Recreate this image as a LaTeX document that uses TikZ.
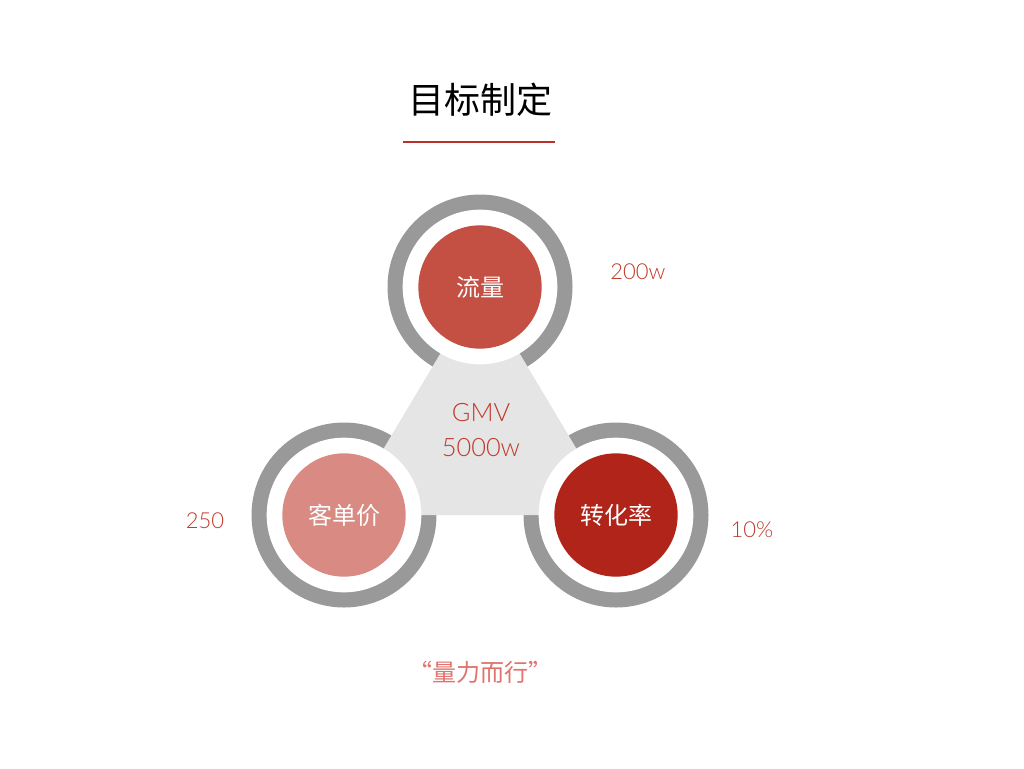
\documentclass[tikz,border=0pt]{standalone}
\usepackage{fontspec}
\newfontfamily\cjk{Noto Sans CJK SC}
\newfontfamily\lat{Lato}[UprightFont=* Light]
\definecolor{ringgray}{HTML}{999999}
\definecolor{trigray}{HTML}{E5E5E5}
\definecolor{topred}{HTML}{C44F43}
\definecolor{pinkred}{HTML}{D88A83}
\definecolor{darkred}{HTML}{B0241A}
\definecolor{txtred}{HTML}{C0392B}
\definecolor{quotered}{HTML}{E0736E}
\definecolor{linered}{HTML}{B8312A}
\tikzset{
  ring/.style={circle, fill=ringgray, minimum size=138.75pt, inner sep=0pt},
  gap/.style={circle, fill=white, minimum size=116pt, inner sep=0pt},
  core/.style={circle, minimum size=92.5pt, inner sep=0pt, text=white, font=\cjk\fontsize{18}{18}\selectfont},
  valtxt/.style={text=txtred, font=\lat\fontsize{16.5}{16.5}\selectfont, inner sep=0pt},
}
\begin{document}
\begin{tikzpicture}[x=0.75pt,y=-0.75pt]
\useasboundingbox (0,0) rectangle (1024,768);
\fill[white] (0,0) rectangle (1024,768);
% title
\node[font=\cjk\fontsize{27}{27}\selectfont, text=black] (title) at (480,100) {目标制定};
\coordinate (ulA) at (403,142);
\coordinate (ulB) at (555,142);
\draw[linered, line width=1.6pt] (ulA) -- (ulB);
% rings
\node[ring] (rtop) at (480,287) {};
\node[ring] (rleft) at (344,515) {};
\node[ring] (rright) at (616,515) {};
% triangle
\fill[trigray] (rtop.center) -- (rleft.center) -- (rright.center) -- cycle;
% white gaps
\node[gap] (gtop) at (rtop) {};
\node[gap] (gleft) at (rleft) {};
\node[gap] (gright) at (rright) {};
% cores
\node[core, fill=topred] (liuliang) at (rtop) {流量};
\node[core, fill=pinkred] (kedanjia) at (rleft) {客单价};
\node[core, fill=darkred] (zhuanhua) at (rright) {转化率};
% center text
\node[text=txtred, font=\lat\fontsize{19}{19}\selectfont] (gmv) at (481,413) {GMV};
\node[text=txtred, font=\lat\fontsize{19}{19}\selectfont] (gmvval) at (481,448) {5000w};
% values
\node[valtxt] (v1) at (638,272) {200w};
\node[valtxt] (v2) at (205,521) {250};
\node[valtxt] (v3) at (752,530) {10\%};
% quote
\node[text=quotered, font=\cjk\fontsize{18}{18}\selectfont] (motto) at (480,672) {“量力而行”};
\end{tikzpicture}
\end{document}
